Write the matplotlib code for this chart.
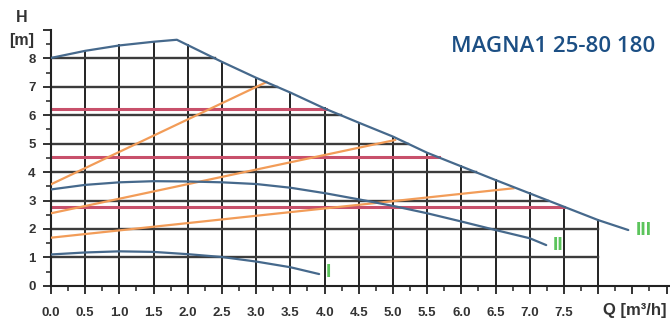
import numpy as np
import matplotlib
matplotlib.use("Agg")
import matplotlib.pyplot as plt
from matplotlib.ticker import MultipleLocator, FixedLocator

# max curve (speed III) - also the envelope of the grid
q_max = [0, 0.5, 1.0, 1.5, 1.84, 2.5, 3.0, 3.5, 4.0, 4.5, 5.0, 5.5, 6.0, 6.5, 7.0, 7.5, 8.0, 8.44]
h_max = [8.02, 8.27, 8.46, 8.59, 8.66, 7.88, 7.32, 6.8, 6.24, 5.74, 5.25, 4.68, 4.2, 3.72, 3.25, 2.78, 2.31, 1.96]

# speed I
q_1 = [0, 0.5, 1.0, 1.5, 2.0, 2.5, 3.0, 3.5, 3.92]
h_1 = [1.1, 1.17, 1.21, 1.19, 1.11, 1.01, 0.85, 0.65, 0.41]

# speed II
q_2 = [0, 0.5, 1.0, 1.5, 2.0, 2.5, 3.0, 3.5, 4.0, 4.5, 5.0, 5.5, 6.0, 6.5, 7.0, 7.24]
h_2 = [3.39, 3.55, 3.64, 3.68, 3.67, 3.64, 3.58, 3.45, 3.26, 3.04, 2.81, 2.55, 2.26, 1.96, 1.67, 1.43]

# proportional pressure lines (start head at Q=0, end point on max curve)
pp_h0 = [3.57, 2.55, 1.69]
pp_q_end = [3.15, 5.03, 6.76]
pp_h_end = [7.17, 5.13, 3.43]

# constant pressure levels
cp_levels = [6.22, 4.52, 2.78]

x_ticks = [0.0, 0.5, 1.0, 1.5, 2.0, 2.5, 3.0, 3.5, 4.0, 4.5, 5.0, 5.5, 6.0, 6.5, 7.0, 7.5]
y_ticks = [0, 1, 2, 3, 4, 5, 6, 7, 8]
curve_names = ["I", "II", "III"]
name_pos_q = [4.05, 7.41, 8.67]
name_pos_h = [0.45, 1.43, 1.96]

BLUE = "#46698c"
ORANGE = "#f29c58"
RED = "#c8506b"
GREEN = "#5cc45c"
TXT = "#333333"

plt.rcParams['font.family'] = ['Liberation Sans', 'DejaVu Sans']

fig = plt.figure(figsize=(6.7, 3.21), dpi=100)
W, H = 670, 321
x0, y0 = 51, 285.7
ax = fig.add_axes([x0 / W, (H - y0) / H, 619 / W, (y0 - 30.1) / H])
ax.set_xlim(0, 9.05)
ax.set_ylim(0, 9)

# descending branch of max curve, for finding where horizontals hit it
ipk = int(np.argmax(h_max))
q_desc = np.array(q_max[ipk:])[::-1]
h_desc = np.array(h_max[ipk:])[::-1]

def q_at_max(h):
    return float(np.interp(h, h_desc, q_desc))

# grid clipped to the max curve
for x in np.arange(0.5, 8.01, 0.5):
    ax.plot([x, x], [0, np.interp(x, q_max, h_max)], color="#111111", lw=1.3, zorder=1)
for y in range(1, 9):
    ax.plot([0, min(8.0, q_at_max(y))], [y, y], color="#3c3c3c", lw=1.7, zorder=1)

for lvl in cp_levels:
    ax.plot([0, q_at_max(lvl)], [lvl, lvl], color=RED, lw=2.2, zorder=2)

for h0, qe, he in zip(pp_h0, pp_q_end, pp_h_end):
    ax.plot([0, qe], [h0, he], color=ORANGE, lw=1.6, zorder=3)

for q, h in [(q_1, h_1), (q_2, h_2), (q_max, h_max)]:
    ax.plot(q, h, color=BLUE, lw=1.6, zorder=4, solid_capstyle='round')

for name, qn, hn in zip(curve_names, name_pos_q, name_pos_h):
    ax.text(qn, hn, name, color=GREEN, fontsize=14, fontweight='bold',
            ha='center', va='center')

for s in ['top', 'right']:
    ax.spines[s].set_visible(False)
for s in ['left', 'bottom']:
    ax.spines[s].set_color('#222222')
    ax.spines[s].set_linewidth(1.5)

ax.xaxis.set_major_locator(FixedLocator(np.arange(0, 9.01, 0.5)))
ax.xaxis.set_minor_locator(MultipleLocator(0.25))
ax.set_xticklabels([f"{v:.1f}" if v <= 7.5 else "" for v in np.arange(0, 9.01, 0.5)])
ax.yaxis.set_major_locator(FixedLocator(range(0, 10)))
ax.yaxis.set_minor_locator(MultipleLocator(0.5))
ax.set_yticklabels([str(v) for v in y_ticks] + [""])

ax.tick_params(axis='both', which='major', direction='out', length=6, width=1.3,
               color='#222222', labelsize=9.5, labelcolor=TXT)
ax.tick_params(axis='both', which='minor', direction='out', length=3.5, width=1.1,
               color='#222222')
ax.tick_params(axis='x', which='major', pad=9)
ax.tick_params(axis='y', which='major', pad=5)
for lab in ax.get_xticklabels() + ax.get_yticklabels():
    lab.set_fontweight('bold')

fig.text(22 / W, 1 - 18 / H, "H", fontsize=11.5, fontweight='bold', color=TXT,
         ha='center', va='center')
fig.text(22 / W, 1 - 40 / H, "[m]", fontsize=11.5, fontweight='bold', color=TXT,
         ha='center', va='center')
fig.text(635 / W, 1 - 311 / H, "Q [m³/h]", fontsize=12, fontweight='bold', color=TXT,
         ha='center', va='center')
fig.text(553 / W, 1 - 46 / H, "MAGNA1 25-80 180", fontsize=16, fontweight='semibold',
         color="#1c4f84", ha='center', va='center', family=['Open Sans', 'DejaVu Sans'])

fig.savefig("out.png", dpi=100)
